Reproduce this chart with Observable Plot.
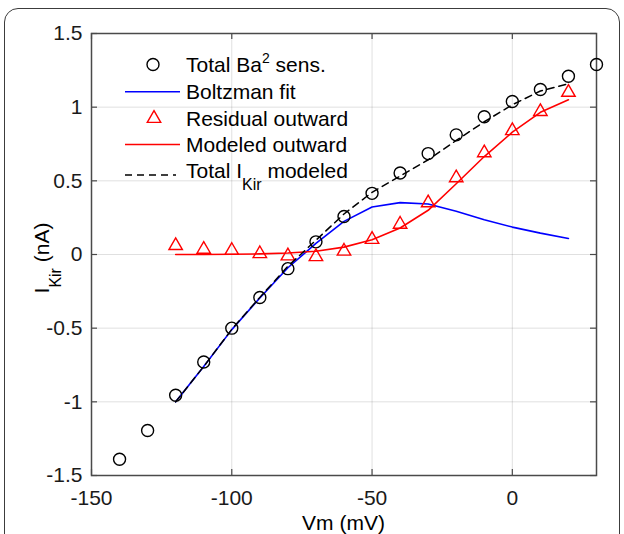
<!DOCTYPE html>
<html>
<head>
<meta charset="utf-8">
<script src="https://cdn.jsdelivr.net/npm/d3@7"></script>
<script src="https://cdn.jsdelivr.net/npm/@observablehq/plot@0.6"></script>
<style>
html, body { margin: 0; padding: 0; background: #fff; }
#wrap { position: relative; width: 624px; height: 534px; overflow: hidden; }
#border { position: absolute; left: 4px; top: 8px; width: 616px; height: 600px; border: 1.5px solid #3c3c3c; border-radius: 14px; box-sizing: border-box; }
#chart { position: absolute; left: 0; top: 0; }
</style>
</head>
<body>
<div id="wrap"><div id="border"></div><div id="chart"></div></div>
<script>
// ---- data ----
const vmTotal = [-140, -130, -120, -110, -100, -90, -80, -70, -60, -50, -40, -30, -20, -10, 0, 10, 20, 30];
const iTotal = [-1.39, -1.195, -0.955, -0.73, -0.50, -0.292, -0.096, 0.086, 0.258, 0.415, 0.553, 0.685, 0.812, 0.935, 1.038, 1.12, 1.21, 1.29];

const vmResidual = [-120, -110, -100, -90, -80, -70, -60, -50, -40, -30, -20, -10, 0, 10, 20];
const iResidual = [0.06, 0.035, 0.027, 0.005, -0.01, -0.015, 0.022, 0.102, 0.205, 0.35, 0.52, 0.69, 0.84, 0.97, 1.10];

const vmModel = [-120, -110, -100, -90, -80, -70, -60, -50, -40, -30, -20, -10, 0, 10, 20];
const iBoltzman = [-1.0, -0.76, -0.51, -0.295, -0.09, 0.075, 0.225, 0.322, 0.352, 0.343, 0.294, 0.236, 0.186, 0.145, 0.109];
const iModeled = [0.0, 0.0, 0.002, 0.004, 0.01, 0.022, 0.05, 0.10, 0.18, 0.30, 0.48, 0.665, 0.83, 0.965, 1.05];
const iTotalModeled = [-1.0, -0.76, -0.508, -0.291, -0.08, 0.097, 0.275, 0.422, 0.532, 0.643, 0.774, 0.901, 1.016, 1.11, 1.159];

const xTicks = [-150, -100, -50, 0];
const xTickLabels = ["-150", "-100", "-50", "0"];
const yTicks = [-1.5, -1, -0.5, 0, 0.5, 1, 1.5];
const yTickLabels = ["-1.5", "-1", "-0.5", "0", "0.5", "1", "1.5"];

const legendLabels = ["Total Ba", "Boltzman fit", "Residual outward", "Modeled outward", "Total I"];

// ---- layout ----
const W = 624, H = 534;
const mL = 91, mR = 28, mT = 33, mB = 59;
const pw = W - mL - mR, ph = H - mT - mB;
const FONT = "'Liberation Sans', Arial, Helvetica, sans-serif";

const toRows = (xs, ys) => xs.map((x, i) => ({x, y: ys[i]}));
const total = toRows(vmTotal, iTotal);
const residual = toRows(vmResidual, iResidual);
const boltz = toRows(vmModel, iBoltzman);
const modeled = toRows(vmModel, iModeled);
const totalModeled = toRows(vmModel, iTotalModeled);

const axisColor = "#4a4a4a";

const plot = Plot.plot({
  width: W, height: H,
  marginLeft: mL, marginRight: mR, marginTop: mT, marginBottom: mB,
  style: {fontFamily: FONT, fontSize: "21px", color: "#1a1a1a", background: "transparent", overflow: "visible"},
  x: {domain: [-150, 30]},
  y: {domain: [-1.5, 1.5]},
  marks: [
    Plot.gridX({ticks: xTicks, stroke: "#262626", strokeOpacity: 0.14}),
    Plot.gridY({ticks: yTicks, stroke: "#262626", strokeOpacity: 0.14}),
    // inward tick marks (bottom, top, left, right)
    Plot.ruleX(xTicks, {x: d => d, insetTop: ph - 6, stroke: axisColor, strokeWidth: 1.2}),
    Plot.ruleX(xTicks, {x: d => d, insetBottom: ph - 6, stroke: axisColor, strokeWidth: 1.2}),
    Plot.ruleY(yTicks, {y: d => d, insetRight: pw - 6, stroke: axisColor, strokeWidth: 1.2}),
    Plot.ruleY(yTicks, {y: d => d, insetLeft: pw - 6, stroke: axisColor, strokeWidth: 1.2}),
    Plot.frame({stroke: axisColor, strokeWidth: 1.5}),
    Plot.axisX({ticks: xTicks, tickSize: 0, tickPadding: 15, tickFormat: d => xTickLabels[xTicks.indexOf(d)], label: null}),
    Plot.axisY({ticks: yTicks, tickSize: 0, tickPadding: 9, tickFormat: d => yTickLabels[yTicks.indexOf(d)], label: null}),
    // data
    Plot.line(boltz, {x: "x", y: "y", stroke: "#0000ff", strokeWidth: 1.6}),
    Plot.line(modeled, {x: "x", y: "y", stroke: "#ff0000", strokeWidth: 1.6}),
    Plot.dot(total, {x: "x", y: "y", r: 6, stroke: "#000", strokeWidth: 1.4, fill: "none"}),
    Plot.dot(residual, {x: "x", y: "y", symbol: "triangle", r: 5, stroke: "#ff0000", strokeWidth: 1.4, fill: "none"}),
    Plot.line(totalModeled, {x: "x", y: "y", stroke: "#000", strokeWidth: 1.5, strokeDasharray: "7,5"})
  ]
});

document.getElementById("chart").appendChild(plot);

const svg = d3.select(plot);
const g = svg.append("g").attr("font-family", FONT).attr("font-size", 21).attr("fill", "#000").attr("text-anchor", "start");

// axis labels
g.append("text").attr("x", mL + pw / 2).attr("y", 530).attr("text-anchor", "middle").text("Vm (mV)");
const yl = g.append("text").attr("transform", "translate(49,258) rotate(-90)").attr("text-anchor", "middle");
yl.append("tspan").text("I");
yl.append("tspan").attr("font-size", 16).attr("dy", 12).text("Kir");
yl.append("tspan").attr("dy", -12).text(" (nA)");

// legend
const rowsY = [64.5, 91.7, 118.5, 144.5, 175];
const baseY = [72.3, 99.3, 126, 152, 178];
const lx1 = 125, lx2 = 180, tx = 186;
g.append("circle").attr("cx", 153).attr("cy", rowsY[0]).attr("r", 6).attr("fill", "none").attr("stroke", "#000").attr("stroke-width", 1.4);
g.append("line").attr("x1", lx1).attr("x2", lx2).attr("y1", rowsY[1]).attr("y2", rowsY[1]).attr("stroke", "#0000ff").attr("stroke-width", 1.6);
g.append("path").attr("d", d3.symbol(d3.symbolTriangle, 25 * Math.PI)()).attr("transform", `translate(154,${rowsY[2]})`).attr("fill", "none").attr("stroke", "#ff0000").attr("stroke-width", 1.4);
g.append("line").attr("x1", lx1).attr("x2", lx2).attr("y1", rowsY[3]).attr("y2", rowsY[3]).attr("stroke", "#ff0000").attr("stroke-width", 1.6);
g.append("line").attr("x1", lx1).attr("x2", lx2 - 4).attr("y1", rowsY[4]).attr("y2", rowsY[4]).attr("stroke", "#000").attr("stroke-width", 1.5).attr("stroke-dasharray", "7,5");

const legendText = (i) => g.append("text").attr("x", tx).attr("y", baseY[i]).attr("text-anchor", "start");
const t0 = legendText(0);
t0.append("tspan").text(legendLabels[0]);
t0.append("tspan").attr("font-size", 14).attr("dy", -9).text("2");
t0.append("tspan").attr("dy", 9).text(" sens.");
legendText(1).text(legendLabels[1]);
legendText(2).text(legendLabels[2]);
legendText(3).text(legendLabels[3]);
const t4 = legendText(4);
t4.append("tspan").text(legendLabels[4]);
t4.append("tspan").attr("font-size", 16).attr("dy", 12).text("Kir");
t4.append("tspan").attr("dy", -12).text(" modeled");
</script>
</body>
</html>
